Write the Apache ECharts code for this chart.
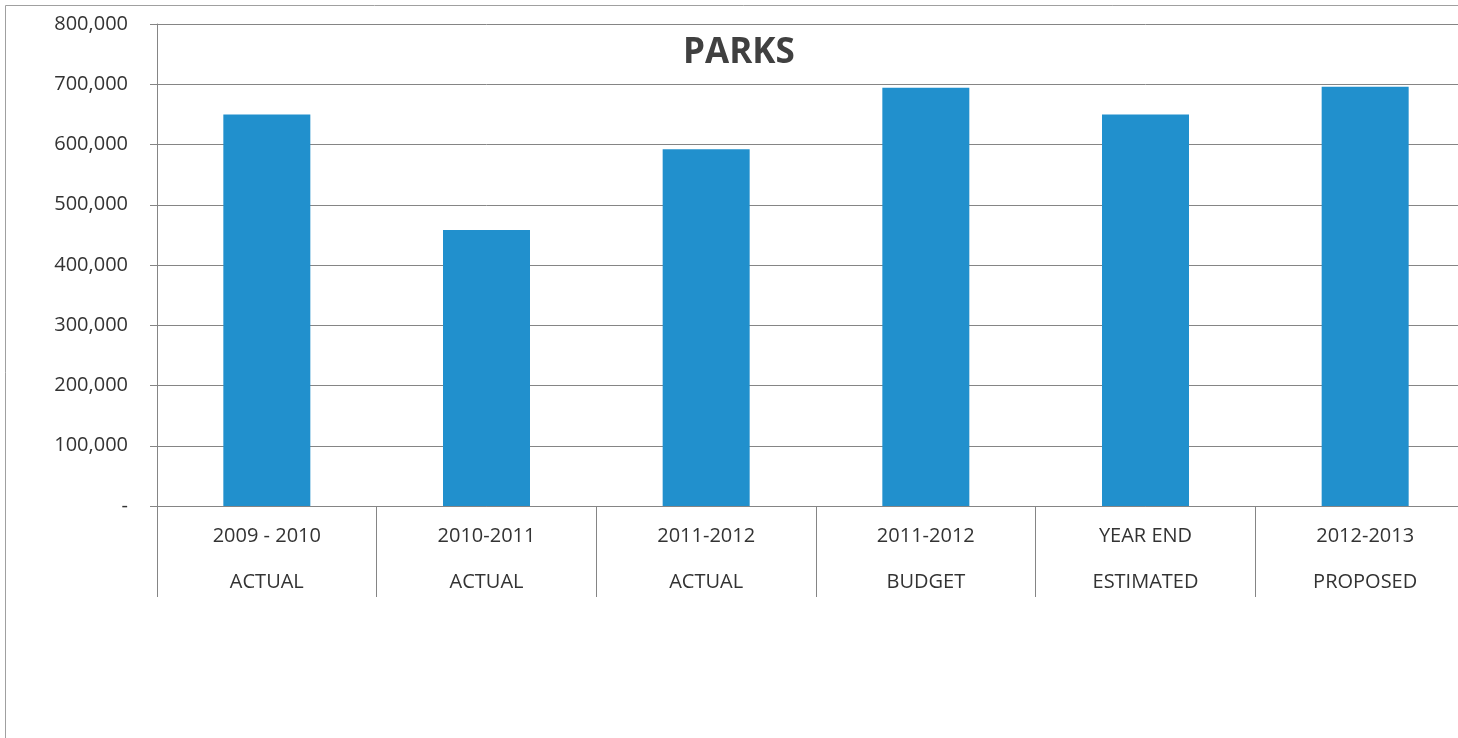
<!DOCTYPE html>
<html>
<head>
<meta charset="utf-8">
<script src="https://cdn.jsdelivr.net/npm/echarts@6/dist/echarts.min.js"></script>
<style>
  html, body { margin: 0; padding: 0; background: #fff; overflow: hidden; }
  /* the plot runs slightly past the right edge of the page */
  #chart { width: 1480px; height: 738px; }
</style>
</head>
<body>
<div id="chart"></div>
<script>
// Parks budget by fiscal period
const categories = [
  '2009 - 2010\nACTUAL',
  '2010-2011\nACTUAL',
  '2011-2012\nACTUAL',
  '2011-2012\nBUDGET',
  'YEAR END\nESTIMATED',
  '2012-2013\nPROPOSED'
];
const parksValues = [650000, 458000, 592000, 694000, 650000, 696000];
const yTicks = { min: 0, max: 800000, interval: 100000 };

const chart = echarts.init(document.getElementById('chart'), null, { renderer: 'canvas' });
const gray = '#858585';
const textColor = '#333333';

chart.setOption({
  backgroundColor: '#ffffff',
  animation: false,
  title: {
    text: 'PARKS',
    left: 678,
    top: 31,
    textStyle: { fontFamily: 'Open Sans', fontWeight: 'bold', fontSize: 35, color: '#404040' }
  },
  graphic: [{
    type: 'rect',
    shape: { x: 5.5, y: 5.5, width: 1600, height: 900 },
    style: { fill: 'none', stroke: '#a0a0a0', lineWidth: 1 },
    silent: true
  }],
  grid: { left: 157, top: 24, width: 1318, height: 482 },
  xAxis: {
    type: 'category',
    data: categories,
    axisLine: { show: true, lineStyle: { color: gray, width: 1 } },
    axisTick: { show: true, length: 91, lineStyle: { color: gray, width: 1 } },
    axisLabel: {
      margin: 7,
      fontFamily: 'Open Sans',
      fontSize: 20,
      lineHeight: 46,
      color: textColor
    },
    splitLine: { show: false }
  },
  yAxis: {
    type: 'value',
    min: yTicks.min,
    max: yTicks.max,
    interval: yTicks.interval,
    axisLine: { show: true, lineStyle: { color: gray, width: 1 } },
    axisTick: { show: true, length: 7, lineStyle: { color: gray, width: 1 } },
    axisLabel: {
      margin: 29,
      fontFamily: 'Open Sans',
      fontSize: 20,
      color: textColor,
      formatter: v => v === 0 ? '-' : v.toLocaleString('en-US')
    },
    splitLine: { show: true, lineStyle: { color: gray, width: 1 } }
  },
  series: [{
    type: 'bar',
    data: parksValues,
    barWidth: 87,
    itemStyle: { color: '#2190cd' }
  }]
});
</script>
</body>
</html>
